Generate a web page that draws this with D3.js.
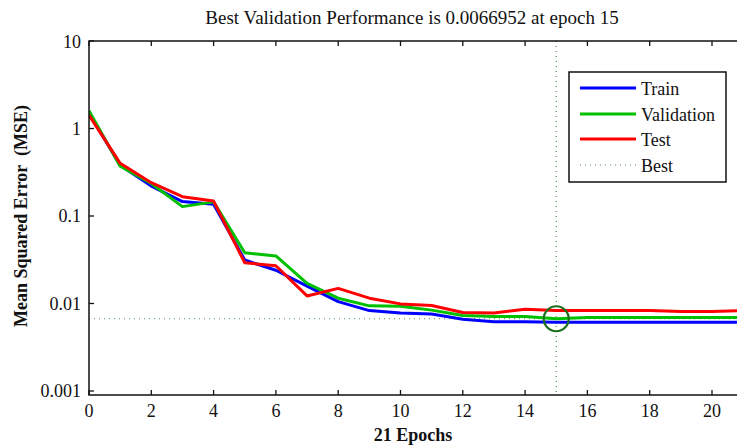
<!DOCTYPE html>
<html>
<head>
<meta charset="utf-8">
<script src="https://cdn.jsdelivr.net/npm/d3@7"></script>
<style>
  html, body { margin: 0; padding: 0; background: #fff; }
  svg { display: block; font-family: "Liberation Serif", "DejaVu Serif", serif; }
</style>
</head>
<body>
<svg id="chart" width="737" height="447"></svg>
<script>
// Training record: mean squared error per epoch
const epochs = d3.range(0, 22);
const train = [1.5, 0.38, 0.22, 0.146, 0.136, 0.0314, 0.024, 0.0158, 0.0105, 0.0083, 0.0078,
               0.0076, 0.0066, 0.0062, 0.0062, 0.0061, 0.0061, 0.0061, 0.0061, 0.0061, 0.0061, 0.0061];
const validation = [1.6, 0.37, 0.235, 0.128, 0.145, 0.038, 0.035, 0.017, 0.0115, 0.0094, 0.0093,
                    0.0084, 0.0073, 0.0071, 0.0071, 0.0066952, 0.0069, 0.0069, 0.0069, 0.0069, 0.0069, 0.0069];
const test = [1.42, 0.40, 0.24, 0.166, 0.148, 0.0292, 0.027, 0.0122, 0.0149, 0.0115, 0.0099,
              0.0095, 0.0079, 0.0078, 0.0086, 0.0083, 0.0083, 0.0083, 0.0083, 0.0081, 0.0081, 0.0083];
const bestEpoch = 15;
const bestValue = 0.0066952;
const xTicks = [0, 2, 4, 6, 8, 10, 12, 14, 16, 18, 20];
const yTicks = [0.001, 0.01, 0.1, 1, 10];
const yTickLabels = ["0.001", "0.01", "0.1", "1", "10"];
const seriesNames = ["Train", "Validation", "Test"];
const seriesColors = ["#0000ff", "#00c000", "#ff0000"];

const svg = d3.select("#chart");
const plotLeft = 89, plotTop = 41, plotBottom = 395;
const x = d3.scaleLinear().domain([0, 21]).range([plotLeft, plotLeft + 21 * 31.15]);
const y = d3.scaleLog().domain([0.0009, 10]).range([plotBottom, plotTop]);
const plotRight = x(21);

svg.append("defs").append("clipPath").attr("id", "plotclip")
  .append("rect").attr("x", plotLeft).attr("y", plotTop)
  .attr("width", plotRight - plotLeft).attr("height", plotBottom - plotTop);

const plot = svg.append("g").attr("clip-path", "url(#plotclip)");

// Best-epoch guides
const guideColor = "#4f8f4f";
plot.append("line")
  .attr("x1", plotLeft).attr("x2", plotRight).attr("y1", y(bestValue)).attr("y2", y(bestValue))
  .attr("stroke", guideColor).attr("stroke-width", 1.2).attr("stroke-dasharray", "1,4");
plot.append("line")
  .attr("x1", x(bestEpoch)).attr("x2", x(bestEpoch)).attr("y1", plotTop).attr("y2", plotBottom)
  .attr("stroke", guideColor).attr("stroke-width", 1.2).attr("stroke-dasharray", "1,4");

// Performance curves
const line = d3.line().x((d, i) => x(epochs[i])).y(d => y(d));
[train, validation, test].forEach((s, k) => {
  plot.append("path").datum(s)
    .attr("d", line)
    .attr("fill", "none")
    .attr("stroke", seriesColors[k])
    .attr("stroke-width", 3)
    .attr("stroke-linejoin", "round");
});

// Best validation marker
plot.append("circle")
  .attr("cx", x(bestEpoch)).attr("cy", y(bestValue)).attr("r", 12.5)
  .attr("fill", "none").attr("stroke", "#1c6e1c").attr("stroke-width", 2.2);

// Axes box and inward ticks
const axisG = svg.append("g");
axisG.append("rect")
  .attr("x", plotLeft).attr("y", plotTop).attr("width", plotRight - plotLeft).attr("height", plotBottom - plotTop)
  .attr("fill", "none").attr("stroke", "#111").attr("stroke-width", 1.5);

const tickLen = 5;
const tickFont = 18;
xTicks.forEach(t => {
  axisG.append("line").attr("x1", x(t)).attr("x2", x(t)).attr("y1", plotBottom).attr("y2", plotBottom - tickLen)
    .attr("stroke", "#111").attr("stroke-width", 1.3);
  axisG.append("text").attr("x", x(t)).attr("y", 417).attr("text-anchor", "middle")
    .attr("font-size", tickFont).attr("fill", "#111").text(t);
  axisG.append("line").attr("x1", x(t)).attr("x2", x(t)).attr("y1", plotTop).attr("y2", plotTop + tickLen)
    .attr("stroke", "#111").attr("stroke-width", 1.3);
});
yTicks.forEach((t, i) => {
  axisG.append("line").attr("x1", plotLeft).attr("x2", plotLeft + tickLen).attr("y1", y(t)).attr("y2", y(t))
    .attr("stroke", "#111").attr("stroke-width", 1.3);
  axisG.append("line").attr("x1", plotRight).attr("x2", plotRight - tickLen).attr("y1", y(t)).attr("y2", y(t))
    .attr("stroke", "#111").attr("stroke-width", 1.3);
  axisG.append("text").attr("x", 81).attr("y", y(t) + 6.5).attr("text-anchor", "end")
    .attr("font-size", tickFont).attr("fill", "#111").text(yTickLabels[i]);
});

// Titles
svg.append("text").attr("x", 412).attr("y", 24).attr("text-anchor", "middle")
  .attr("font-size", 19).attr("fill", "#111")
  .text("Best Validation Performance is 0.0066952 at epoch 15");
svg.append("text").attr("x", 413).attr("y", 441).attr("text-anchor", "middle")
  .attr("font-size", 18).attr("font-weight", "bold").attr("fill", "#111")
  .text("21 Epochs");
svg.append("text").attr("transform", "translate(27,216) rotate(-90)").attr("text-anchor", "middle")
  .attr("font-size", 18).attr("font-weight", "bold").attr("fill", "#111")
  .style("white-space", "pre")
  .text("Mean Squared Error  (MSE)");

// Legend
const lg = svg.append("g");
lg.append("rect").attr("x", 569).attr("y", 72).attr("width", 157).attr("height", 110)
  .attr("fill", "#fff").attr("stroke", "#111").attr("stroke-width", 1.5);
const rowsY = [88, 114, 139, 165];
seriesNames.forEach((n, k) => {
  lg.append("line").attr("x1", 580).attr("x2", 636).attr("y1", rowsY[k]).attr("y2", rowsY[k])
    .attr("stroke", seriesColors[k]).attr("stroke-width", 3);
  lg.append("text").attr("x", 641).attr("y", rowsY[k] + 6.5).attr("font-size", 18).attr("fill", "#111").text(n);
});
lg.append("line").attr("x1", 580).attr("x2", 636).attr("y1", rowsY[3]).attr("y2", rowsY[3])
  .attr("stroke", guideColor).attr("stroke-width", 1.2).attr("stroke-dasharray", "1,4");
lg.append("text").attr("x", 641).attr("y", rowsY[3] + 6.5).attr("font-size", 18).attr("fill", "#111").text("Best");
</script>
</body>
</html>
